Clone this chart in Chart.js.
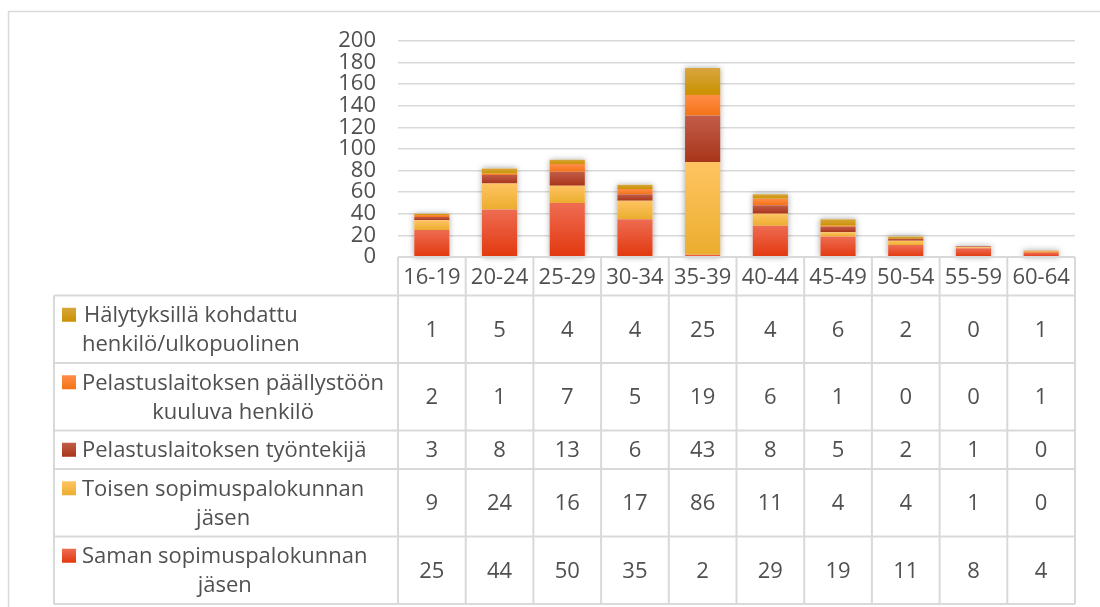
<!DOCTYPE html>
<html>
<head>
<meta charset="utf-8">
<script src="https://cdn.jsdelivr.net/npm/chart.js@4/dist/chart.umd.min.js"></script>
<style>
html, body { margin: 0; background: #fff; }
#wrap { width: 1100px; height: 607px; }
</style>
</head>
<body>
<div id="wrap"><canvas id="chart" width="1100" height="607"></canvas></div>
<script>
// data -----------------------------------------------------
var ageGroups = ["16-19", "20-24", "25-29", "30-34", "35-39", "40-44", "45-49", "50-54", "55-59", "60-64"];

// stacked bottom -> top
var saman      = [25, 44, 50, 35, 2, 29, 19, 11, 8, 4];
var toisen     = [9, 24, 16, 17, 86, 11, 4, 4, 1, 0];
var tyontekija = [3, 8, 13, 6, 43, 8, 5, 2, 1, 0];
var paallysto  = [2, 1, 7, 5, 19, 6, 1, 0, 0, 1];
var halytys    = [1, 5, 4, 4, 25, 4, 6, 2, 0, 1];

var samanLabel      = ["Saman sopimuspalokunnan", "jäsen"];
var toisenLabel     = ["Toisen sopimuspalokunnan", "jäsen"];
var tyontekijaLabel = ["Pelastuslaitoksen työntekijä"];
var paallystoLabel  = ["Pelastuslaitoksen päällystöön", "kuuluva henkilö"];
var halytysLabel    = ["Hälytyksillä kohdattu", "henkilö/ulkopuolinen"];

var yTicks = [0, 20, 40, 60, 80, 100, 120, 140, 160, 180, 200];

var FAMILY = '"Open Sans", "Liberation Sans", sans-serif';
var FSIZE = 22;
var FONT = FSIZE + 'px ' + FAMILY;
var TEXT = '#505050';
var LINE = '#d9d9d9';

// gradient for each stacked segment (light top, darker bottom)
function segGradient(top, bottom) {
    return function(ctx) {
        var chart = ctx.chart, y = chart.scales.y;
        if (!y || ctx.type !== 'data') return bottom;
        var i = ctx.dataIndex, d = ctx.datasetIndex, start = 0;
        for (var k = 0; k < d; k++) start += chart.data.datasets[k].data[i];
        var end = start + chart.data.datasets[d].data[i];
        var y0 = y.getPixelForValue(end), y1 = y.getPixelForValue(start);
        if (!isFinite(y0) || !isFinite(y1) || y1 - y0 < 1) return bottom;
        var g = chart.ctx.createLinearGradient(0, y0, 0, y1);
        g.addColorStop(0, top);
        g.addColorStop(1, bottom);
        return g;
    };
}

var series = [
    { label: samanLabel, data: saman, top: '#ee6c52', bottom: '#e2380e' },
    { label: toisenLabel, data: toisen, top: '#ffc462', bottom: '#ebad2e' },
    { label: tyontekijaLabel, data: tyontekija, top: '#c25d48', bottom: '#a8351a' },
    { label: paallystoLabel, data: paallysto, top: '#ff8d48', bottom: '#f47316' },
    { label: halytysLabel, data: halytys, top: '#d7a63e', bottom: '#cb9100' }
];

// soft shadow behind each full stack
var shadowPlugin = {
    id: 'stackShadow',
    beforeDatasetsDraw: function(chart) {
        var c = chart.ctx, y = chart.scales.y;
        var meta = chart.getDatasetMeta(0);
        c.save();
        c.shadowColor = 'rgba(0,0,0,0.35)';
        c.shadowBlur = 6;
        c.fillStyle = '#fff';
        meta.data.forEach(function(bar, i) {
            var total = 0;
            chart.data.datasets.forEach(function(ds) { total += ds.data[i]; });
            var yt = y.getPixelForValue(total), yb = y.getPixelForValue(0);
            c.fillRect(bar.x - bar.width / 2, yt, bar.width, yb - yt);
        });
        c.restore();
    }
};

// data table under the plot ----------------------------------
var tablePlugin = {
    id: 'dataTable',
    beforeDraw: function(chart) {
        var c = chart.ctx;
        c.save();
        c.strokeStyle = LINE;
        c.lineWidth = 1.5;
        c.strokeRect(8.5, 11.5, 1300, 800);
        c.restore();
    },
    afterDraw: function(chart) {
        var c = chart.ctx, x = chart.scales.x, area = chart.chartArea;
        var half = (x.getPixelForValue(1) - x.getPixelForValue(0)) / 2;
        var tableLeft = 54, lineH = 29, pad = 9.5;
        var headTop = area.bottom, headBottom = headTop + pad + lineH;
        var rows = series.slice().reverse();

        c.save();
        c.font = FONT;
        c.fillStyle = TEXT;
        c.textAlign = 'center';
        c.textBaseline = 'middle';
        c.strokeStyle = LINE;
        c.lineWidth = 2;

        function hline(y, x0, x1) { c.beginPath(); c.moveTo(x0, y); c.lineTo(x1, y); c.stroke(); }
        function vline(xx, y0, y1) { c.beginPath(); c.moveTo(xx, y0); c.lineTo(xx, y1); c.stroke(); }

        // header
        hline(headTop, area.left, area.right);
        ageGroups.forEach(function(g, i) {
            c.fillText(g, x.getPixelForValue(i), (headTop + headBottom) / 2 + 1);
        });

        var top = headBottom;
        hline(top, tableLeft, area.right);
        rows.forEach(function(s) {
            var n = s.label.length;
            var h = pad + lineH * n;
            var mid = top + h / 2;

            // legend key
            var ky = mid - (n - 1) / 2 * lineH;
            var kg = c.createLinearGradient(0, ky - 7, 0, ky + 7);
            kg.addColorStop(0, s.top);
            kg.addColorStop(1, s.bottom);
            c.fillStyle = kg;
            c.fillRect(62, ky - 7, 14, 14);

            // label lines, centred on widest line
            c.fillStyle = TEXT;
            var w = 0;
            s.label.forEach(function(t) { w = Math.max(w, c.measureText(t).width); });
            s.label.forEach(function(t, j) {
                c.fillText(t, 82 + w / 2, mid + (j - (n - 1) / 2) * lineH + 1);
            });

            // values
            s.data.forEach(function(v, i) {
                c.fillText(String(v), x.getPixelForValue(i), mid + 1);
            });

            top += h;
            hline(top, tableLeft, area.right);
        });

        // verticals
        vline(tableLeft, headBottom, top);
        vline(x.getPixelForValue(0) - half, headTop, top);
        ageGroups.forEach(function(g, i) {
            vline(x.getPixelForValue(i) + half, headTop, top);
        });
        c.restore();
    }
};

var ctx = document.getElementById('chart');
var myChart = new Chart(ctx, {
    type: 'bar',
    data: {
        labels: ageGroups,
        datasets: series.map(function(s) {
            return {
                label: s.label.join(' '),
                data: s.data,
                backgroundColor: segGradient(s.top, s.bottom),
                borderWidth: 0,
                categoryPercentage: 1,
                barPercentage: 0.52
            };
        })
    },
    options: {
        responsive: false,
        animation: false,
        layout: { padding: { top: 41, bottom: 350, right: 25, left: 0 } },
        plugins: { legend: { display: false }, tooltip: { enabled: false } },
        scales: {
            x: { stacked: true, display: false },
            y: {
                stacked: true,
                min: yTicks[0],
                max: yTicks[yTicks.length - 1],
                afterBuildTicks: function(axis) {
                    axis.ticks = yTicks.map(function(v) { return { value: v }; });
                },
                afterFit: function(axis) { axis.width = 398; },
                border: { display: false },
                grid: { color: LINE, lineWidth: 1.5, drawTicks: false },
                ticks: { color: TEXT, font: { family: FAMILY, size: FSIZE }, padding: 22, autoSkip: false }
            }
        }
    },
    plugins: [shadowPlugin, tablePlugin]
});
</script>
</body>
</html>
